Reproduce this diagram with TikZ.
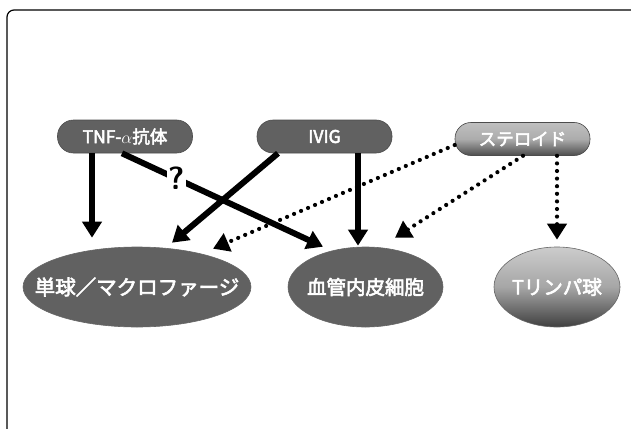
\documentclass[tikz,border=0pt]{standalone}
\usepackage{fontspec}
\newfontfamily\jp{Noto Sans CJK JP}[AutoFakeBold=3]
\usetikzlibrary{arrows.meta,shapes.geometric,calc}
\definecolor{dk}{gray}{0.38}
\tikzset{
  pill/.style={draw=black!70, line width=0.6pt, rounded corners=16pt, minimum width=135pt, minimum height=33pt, inner sep=0pt, fill=dk, text=white, font=\jp\bfseries\fontsize{17.5}{17}\selectfont},
  cell/.style={ellipse, draw=black!60, line width=0.6pt, inner sep=0pt, minimum height=80pt, fill=dk},
  celltext/.style={text=white, inner sep=0pt, font=\jp\bfseries\fontsize{19.5}{19}\selectfont},
  solidarr/.style={line width=6pt, -{Triangle[length=16pt,width=19pt]}},
  dotarr/.style={line width=4.2pt, line cap=round, dash pattern=on 0pt off 7.6pt, -{Triangle[length=16pt,width=19pt]}},
}
\begin{document}
\begin{tikzpicture}[x=1pt,y=-1pt]
\useasboundingbox (0,0) rectangle (631,428);
\begin{scope}
\clip (0,0) rectangle (631,428);
\draw[line width=1.2pt, rounded corners=7pt] (7,445) -- (7,10) -- (650,10);
\end{scope}
% top nodes
\node[pill] (tnf) at (125,136.5) {TNF-$\alpha$抗体};
\node[pill] (ivig) at (324.5,136.5) {IVIG};
\node[pill, top color=gray!50, bottom color=black!70, middle color=gray!65] (ster) at (522.5,139) {ステロイド};
% cells
\node[cell, minimum width=228pt, label={[celltext, font=\jp\bfseries\fontsize{20.5}{20}\selectfont]center:単球／マクロファージ}] (mono) at (137,287) {};
\node[cell, minimum width=155pt, label={[celltext]center:血管内皮細胞}] (endo) at (365.5,287) {};
\node[cell, minimum width=126pt, fill=none, top color=gray!40, bottom color=black!75, middle color=gray!70, label={[celltext]center:Tリンパ球}] (tly) at (557,287) {};
% arrows
\draw[solidarr, shorten >=9pt] ([xshift=-33pt]tnf.south) -- ([xshift=-33pt]tnf.south |- mono.north);
\draw[solidarr] ([xshift=-3pt]tnf.south) -- node[pos=0.27, fill=white, inner sep=1pt, text=black, font=\sffamily\bfseries\fontsize{32}{32}\selectfont] (q) {?} ([xshift=-42.5pt]endo.north);
\draw[solidarr] ([xshift=-46.5pt]ivig.south) -- ([xshift=35pt,yshift=4pt]mono.north);
\draw[solidarr, shorten >=1pt] ([xshift=33.5pt]ivig.south) -- ([xshift=33.5pt]ivig.south |- endo.north);
\draw[dotarr] ([yshift=-6pt]ster.west) -- ([xshift=76pt,yshift=-2pt]mono.north);
\draw[dotarr] ([xshift=0.5pt]ster.south) -- ([xshift=29.5pt,yshift=9pt]endo.north);
\draw[dotarr, shorten >=7pt] ([xshift=34.5pt]ster.south) -- ([xshift=34.5pt]ster.south |- tly.north);
\end{tikzpicture}
\end{document}
